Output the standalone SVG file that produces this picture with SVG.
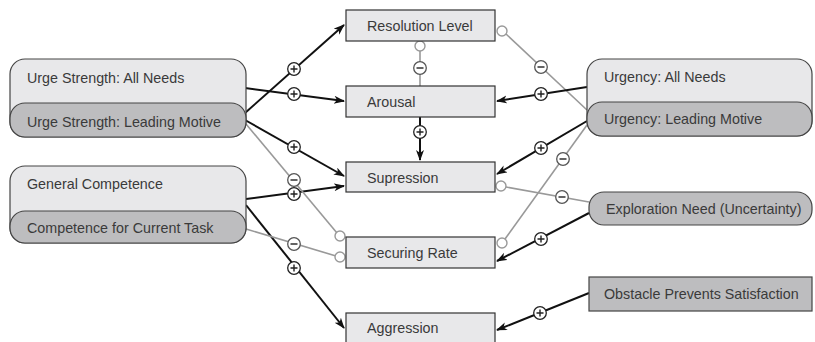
<svg xmlns="http://www.w3.org/2000/svg" width="815" height="342" viewBox="0 0 815 342">
<style>
text{font-family:"Liberation Sans",Arial,sans-serif;font-size:14.3px;fill:#3a3a3a}
.box{fill:#e8e8ea;stroke:#333;stroke-width:1.2}
.outer{fill:#e8e8ea;stroke:#444;stroke-width:1.2}
.inner{fill:#bdbdbf;stroke:#444;stroke-width:1.2}
.pos{stroke:#111;stroke-width:2;fill:none;marker-end:url(#arr)}
.neg{stroke:#999;stroke-width:1.6;fill:none}
.end{fill:#fff;stroke:#999;stroke-width:1.4}
.sp{fill:#fff;stroke:#222;stroke-width:1.3}
.sn{fill:#fff;stroke:#555;stroke-width:1.3}
.sg{stroke:#222;stroke-width:1.4}
</style>
<defs>
<marker id="arr" markerWidth="12" markerHeight="9" refX="10" refY="4" orient="auto" markerUnits="userSpaceOnUse">
<path d="M0,0 L11,4 L0,8 L3,4 z" fill="#111"/>
</marker>
<g id="plus"><circle class="sp" r="6.3"/><path class="sg" d="M-3.5,0H3.5M0,-3.5V3.5"/></g>
<g id="minus"><circle class="sn" r="6.3"/><path class="sg" d="M-3.5,0H3.5"/></g>
</defs>

<g id="connectors">
<line class="pos" x1="245" y1="113" x2="344" y2="25"/>
<line class="pos" x1="245" y1="88" x2="344" y2="101"/>
<line class="pos" x1="245" y1="120" x2="344" y2="176"/>
<line class="pos" x1="246" y1="199" x2="344" y2="186"/>
<line class="pos" x1="246" y1="205" x2="344" y2="328"/>
<line class="neg" x1="246" y1="124" x2="337" y2="233"/>
<line class="neg" x1="246" y1="229" x2="336" y2="256"/>
<line class="neg" x1="420" y1="86" x2="420" y2="51"/>
<line class="pos" x1="420" y1="117" x2="420" y2="160"/>
<line class="neg" x1="587" y1="110" x2="506" y2="34"/>
<line class="pos" x1="587" y1="87" x2="497" y2="101"/>
<line class="pos" x1="587" y1="121" x2="497" y2="174"/>
<line class="neg" x1="587" y1="125" x2="505" y2="239"/>
<line class="neg" x1="589" y1="202" x2="506" y2="187"/>
<line class="pos" x1="589" y1="213" x2="497" y2="261"/>
<line class="pos" x1="589" y1="293" x2="497" y2="330"/>
<circle class="end" cx="340" cy="236" r="5"/>
<circle class="end" cx="340" cy="257" r="5"/>
<circle class="end" cx="420" cy="46" r="5"/>
<circle class="end" cx="502" cy="31" r="5"/>
<circle class="end" cx="502" cy="243" r="5"/>
<circle class="end" cx="501" cy="186" r="5"/>
<use href="#plus" x="294" y="69"/>
<use href="#plus" x="294" y="94"/>
<use href="#plus" x="294" y="147"/>
<use href="#minus" x="294" y="180"/>
<use href="#plus" x="294" y="194"/>
<use href="#minus" x="294" y="244"/>
<use href="#plus" x="294" y="268"/>
<use href="#minus" x="420" y="68"/>
<use href="#plus" x="420" y="132"/>
<use href="#minus" x="541" y="67"/>
<use href="#plus" x="541" y="94"/>
<use href="#plus" x="541" y="148"/>
<use href="#minus" x="563" y="159"/>
<use href="#minus" x="562" y="197"/>
<use href="#plus" x="541" y="239"/>
<use href="#plus" x="540" y="313"/>
</g>

<g id="urge-strength">
<rect class="outer" x="10" y="59" width="236" height="78" rx="15"/>
<text x="27" y="83">Urge Strength: All Needs</text>
</g>
<g id="urge-strength-leading">
<rect class="inner" x="10" y="103" width="236" height="34" rx="15"/>
<text x="27" y="127">Urge Strength: Leading Motive</text>
</g>
<g id="general-competence">
<rect class="outer" x="10" y="166" width="236" height="77" rx="15"/>
<text x="27" y="189">General Competence</text>
</g>
<g id="competence-task">
<rect class="inner" x="10" y="211" width="236" height="32" rx="15"/>
<text x="27" y="233">Competence for Current Task</text>
</g>

<g id="resolution-level">
<rect class="box" x="346" y="10" width="149" height="31"/>
<text x="367" y="31">Resolution Level</text>
</g>
<g id="arousal">
<rect class="box" x="346" y="86" width="149" height="31"/>
<text x="367" y="107">Arousal</text>
</g>
<g id="supression">
<rect class="box" x="346" y="162" width="149" height="30"/>
<text x="367" y="183">Supression</text>
</g>
<g id="securing-rate">
<rect class="box" x="346" y="237" width="149" height="31"/>
<text x="367" y="258">Securing Rate</text>
</g>
<g id="aggression">
<rect class="box" x="346" y="313" width="149" height="31"/>
<text x="367" y="333">Aggression</text>
</g>

<g id="urgency">
<rect class="outer" x="587" y="59" width="225" height="77" rx="15"/>
<text x="604" y="82">Urgency: All Needs</text>
</g>
<g id="urgency-leading">
<rect class="inner" x="587" y="102" width="225" height="34" rx="15"/>
<text x="604" y="124">Urgency: Leading Motive</text>
</g>
<g id="exploration">
<rect class="inner" x="589" y="192" width="223" height="33" rx="15"/>
<text x="606" y="214">Exploration Need (Uncertainty)</text>
</g>
<g id="obstacle">
<rect class="inner" x="589" y="277" width="223" height="34"/>
<text x="604" y="299">Obstacle Prevents Satisfaction</text>
</g>
</svg>
